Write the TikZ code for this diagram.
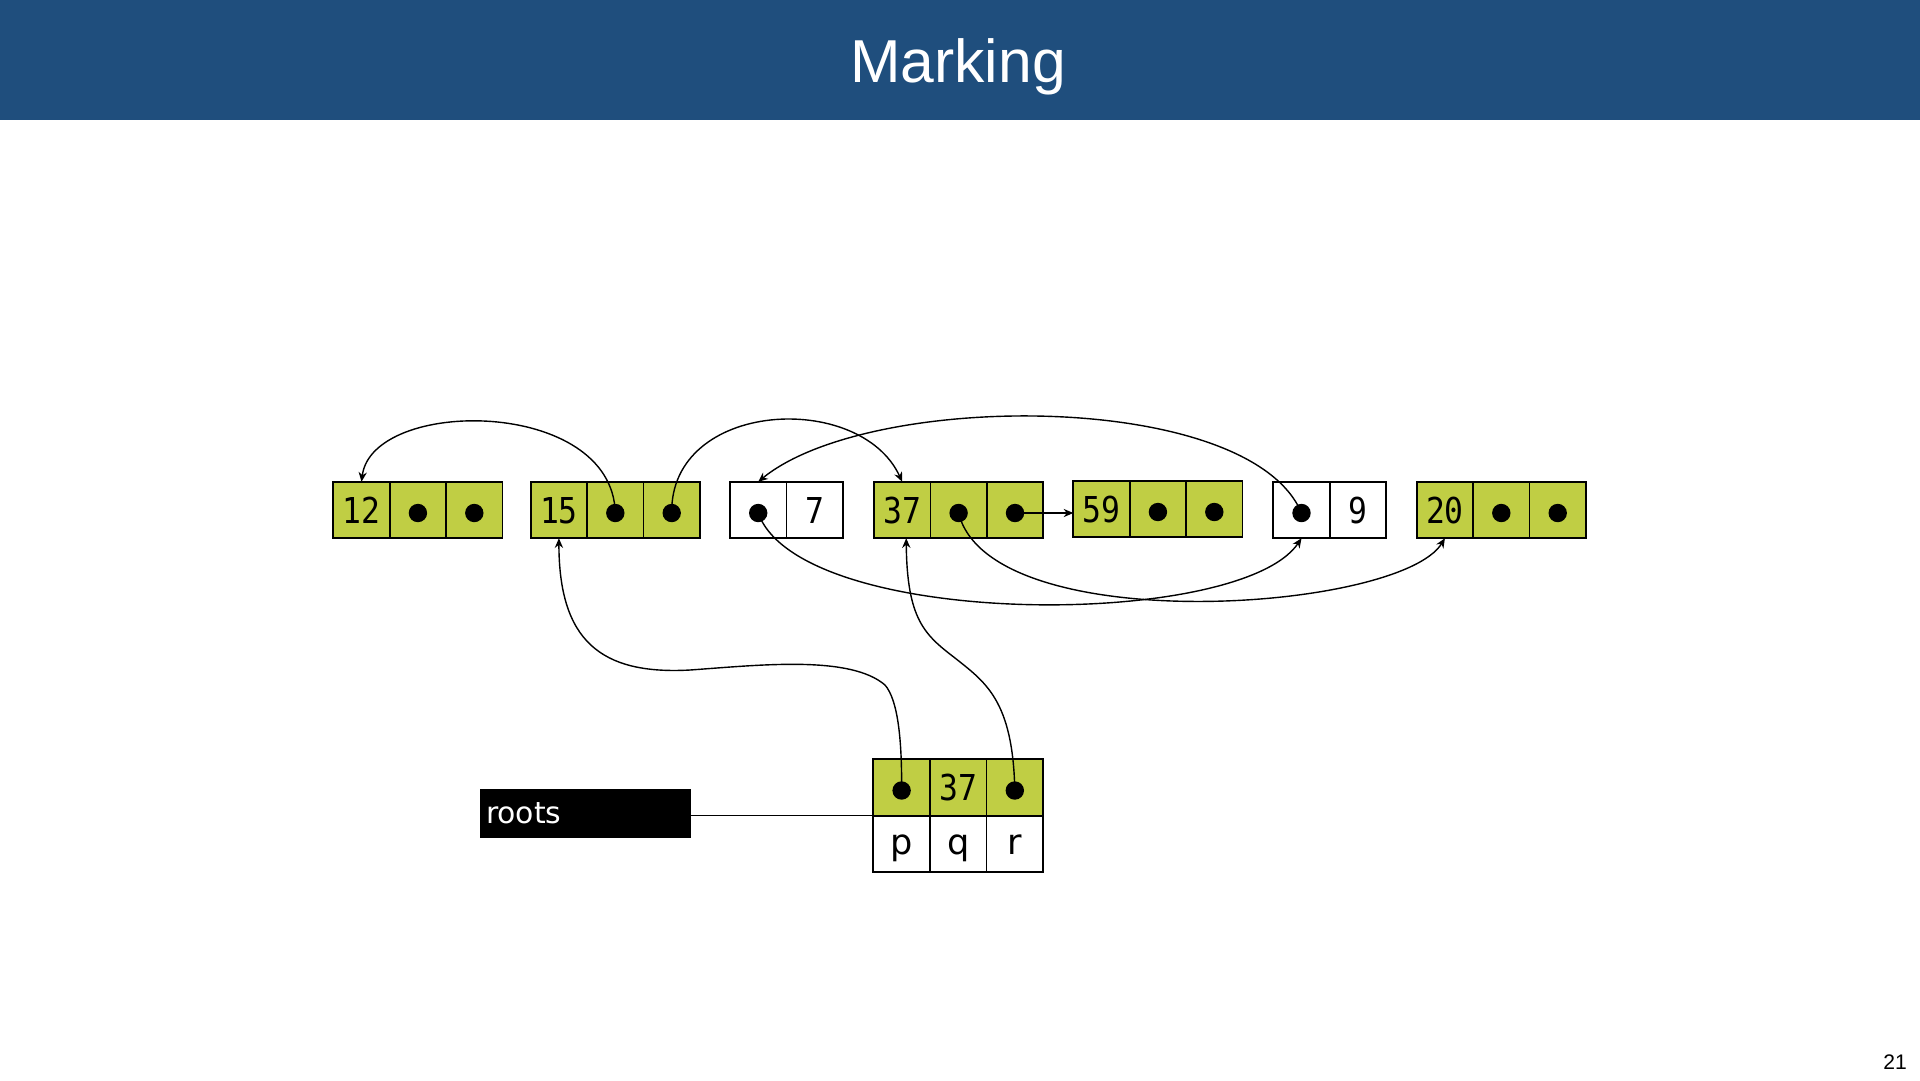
\documentclass[tikz,border=0pt]{standalone}
\usepackage{fontspec}
\setmainfont{Liberation Sans}
\newfontfamily\cellfont[FakeStretch=0.88]{DejaVu Sans Mono}
\newfontfamily\labfont{DejaVu Sans}
\usetikzlibrary{arrows.meta,calc}
\definecolor{cellgreen}{RGB}{192,206,68}
\definecolor{titleblue}{RGB}{31,78,125}
\begin{document}
\begin{tikzpicture}[x=0.02cm,y=-0.02cm,
  cell/.style={draw=black,line width=0.034cm,minimum width=1.128cm,minimum height=1.13cm,
    inner sep=0pt,outer sep=0pt,font=\cellfont\fontsize{20.3}{21}\selectfont,
    text height=0.52cm,text depth=0pt},
  gcell/.style={cell,fill=cellgreen},
  wcell/.style={cell,fill=white},
  namecell/.style={cell,fill=white,font=\labfont\fontsize{20}{22}\selectfont,
    text height=0.4cm,text depth=0pt,minimum width=1.132cm},
  rcell/.style={gcell,minimum width=1.132cm},
  ptr/.style={circle,fill=black,minimum size=0.368cm,inner sep=0pt},
  link/.style={line width=0.028cm,-{Stealth[length=5.5pt,width=4.7pt]}},
]
\useasboundingbox (0,0) rectangle (1920,1080);
% title bar
\fill[titleblue] (0,0) rectangle (1920,120);
\node[anchor=base,text=white,font=\fontsize{34.5}{40}\selectfont] (title) at (958,82) {Marking};
\node[anchor=base east,font=\fontsize{12}{14}\selectfont] (pnum) at (1913,1069) {21};

% heap cells
\node[gcell] (a0) at (361.5,510) {12};
\node[gcell] (a1) at (417.9,510) {};
\node[gcell] (a2) at (474.3,510) {};

\node[gcell] (b0) at (558.9,510) {15};
\node[gcell] (b1) at (615.3,510) {};
\node[gcell] (b2) at (671.7,510) {};

\node[wcell] (c0) at (758.2,510) {};
\node[wcell] (c1) at (814.6,510) {7};

\node[gcell] (d0) at (902.2,510) {37};
\node[gcell] (d1) at (958.6,510) {};
\node[gcell] (d2) at (1015,510) {};

\node[gcell] (e0) at (1101.5,509) {59};
\node[gcell] (e1) at (1157.9,509) {};
\node[gcell] (e2) at (1214.3,509) {};

\node[wcell] (f0) at (1301.5,510) {};
\node[wcell] (f1) at (1357.9,510) {9};

\node[gcell] (g0) at (1444.9,510) {20};
\node[gcell] (g1) at (1501.3,510) {};
\node[gcell] (g2) at (1557.7,510) {};

% roots table
\node[rcell] (r0) at (901.6,787.5) {};
\node[rcell] (r1) at (958.2,787.5) {37};
\node[rcell] (r2) at (1014.8,787.5) {};
\node[namecell] (n0) at (901.6,844) {p};
\node[namecell] (n1) at (958.2,844) {q};
\node[namecell] (n2) at (1014.8,844) {r};

% pointer dots
\foreach \c in {a1,a2,b1,b2,c0,d1,d2,e1,e2,f0,g1,g2,r0,r2}
  \node[ptr] (\c d) at ($(\c)+(0,3)$) {};

% roots label
\node[fill=black,minimum width=4.22cm,minimum height=0.98cm,inner sep=0pt,
  text width=3.98cm,align=left,text=white,font=\labfont\fontsize{17}{20}\selectfont]
  (roots) at (585.5,813.5) {roots};
\draw[line width=0.028cm] (roots.east |- r0.south west) -- (r0.south west);

% connectors
\draw[link] (b1d.center) .. controls +(-3,-116) and +(10.5,-84.5) .. (a0.north);
\draw[link] (b2d.center) .. controls +(-1.7,-113) and +(-42,-91.5) .. (d0.north);
\draw[link] (f0d.center) .. controls +(-51.5,-123) and +(112,-91.5) .. (c0.north);
\draw[link] (c0d.center) .. controls +(42,117) and +(-61.5,91.5) .. (f0.south);
\draw[link] (d1d.center) .. controls +(31.4,127) and +(-45,73.5) .. (g0.south);
\draw[link] (d2d.center) -- (d2d.center -| e0.west);
\draw[link] (r0d.center) .. controls (902,740) and (898,700) .. (885,685)
  .. controls (850,655) and (760,665) .. (690,670)
  .. controls (600,675) and (559,640) .. (b0.south);
\draw[link] (r2d.center) .. controls (1013,700) and (985,682) .. (955,658)
  .. controls (925,635) and (907,620) .. ($(d0.south)+(4,0)$);
\end{tikzpicture}
\end{document}
